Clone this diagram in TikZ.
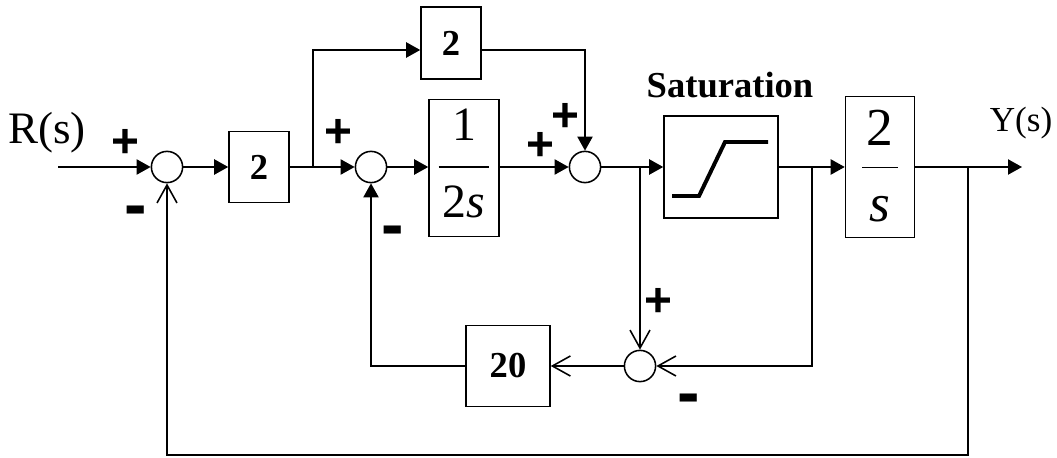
\documentclass[tikz,border=0pt]{standalone}
\usepackage{fontspec}
\setmainfont{Liberation Serif}
\newfontfamily\signfont{Liberation Sans}
\usetikzlibrary{arrows.meta,positioning,calc}
\setlength{\arrayrulewidth}{1.2pt}

\begin{document}
\begin{tikzpicture}[x=0.025cm, y=-0.025cm, line width=1.1pt,
    blk/.style={rectangle, draw, line width=1.1pt, inner sep=0pt},
    sumj/.style={circle, draw, line width=1.1pt, minimum size=0.78cm, inner sep=0pt},
    plus/.style={font=\signfont\bfseries\fontsize{34}{34}\selectfont, inner sep=0pt},
    minus/.style={font=\signfont\bfseries\fontsize{48}{48}\selectfont, inner sep=0pt},
    gain/.style={font=\bfseries\fontsize{26}{26}\selectfont},
    fwd/.style={-{Triangle[length=3.5mm,width=3.8mm]}},
    bwd/.style={-{Straight Barb[length=4.5mm,width=5mm]}}
]
    \useasboundingbox (0,0) rectangle (1057,458);

    % Signals in and out
    \node[font=\fontsize{32}{32}\selectfont, inner sep=0pt] (rlab) at (47,133) {R(s)};
    \node[font=\fontsize{25}{25}\selectfont, inner sep=0pt] (ylab) at (1021,123) {Y(s)};
    \coordinate (in) at (58,167);
    \coordinate (yout) at (1022,167);

    % Forward path
    \node[sumj] (sum1) at (167,167) {};
    \node[blk, gain, minimum width=1.5cm, minimum height=1.775cm] (g1) at (259,167) {2};
    \node[sumj] (sum2) at (371,167) {};
    \node[blk, minimum width=1.75cm, minimum height=3.425cm, font=\fontsize{34}{34}\selectfont]
        (integ) at (464,168) {\begin{tabular}{@{\hspace{3pt}}c@{\hspace{3pt}}}
            \rule{0pt}{26pt}1\\[8.3pt]\hline\rule{0pt}{35.5pt}2\textit{s}\end{tabular}};
    \node[blk, gain, minimum width=1.5cm, minimum height=1.8cm] (gtop) at (451,43) {2};
    \node[sumj] (sum3) at (585,167) {};
    \node[blk, minimum width=2.85cm, minimum height=2.55cm] (sat) at (721,167) {};
    \node[font=\bfseries\fontsize{26}{26}\selectfont] (satlab) at (730,85) {Saturation};
    \node[blk, minimum width=1.725cm, minimum height=3.425cm, font=\fontsize{38}{38}\selectfont]
        (gout) at (880,167) {\begin{tabular}{@{\hspace{3pt}}c@{\hspace{3pt}}}
            \rule{0pt}{35pt}2\\[3.5pt]\hline\rule{0pt}{37.7pt}\textit{s}\end{tabular}};

    % Inner loop
    \node[sumj] (sum4) at (640,366) {};
    \node[blk, gain, minimum width=2.1cm, minimum height=2.025cm] (gfb) at (508,366) {20};

    % saturation curve
    \draw[line width=2.8pt] (672,196) -- (699,196) -- (725,142) -- (768,142);

    % branch points
    \coordinate (b1) at (313,167);
    \coordinate (b1top) at (313,50);
    \coordinate (b2) at (640,167);
    \coordinate (b3) at (812,167);
    \coordinate (b4) at (968,167);
    \coordinate (bot) at (968,455);

    % Connectors
    \draw[fwd] (in) -- (sum1);
    \draw[fwd] (sum1) -- (g1);
    \draw[fwd] (g1) -- (sum2);
    \draw[fwd] (b1) -- (b1top) -- (gtop.west |- b1top);
    \draw[fwd] (gtop.east |- b1top) -| (sum3);
    \draw[fwd] (sum2) -- (sum2 -| integ.west);
    \draw[fwd] (integ.east |- sum3) -- (sum3);
    \draw[fwd] (sum3) -- (sat);
    \draw[fwd] (sat) -- (gout);
    \draw[fwd] (gout) -- (yout);
    \draw[bwd] (b2) -- (sum4);
    \draw[bwd] (b3) |- (sum4);
    \draw[bwd] (sum4) -- (gfb);
    \draw[fwd] (gfb) -| (sum2);
    \draw[bwd] (b4) -- (bot) -| (sum1);

    % Signs
    \node[plus] (p1) at (125,143) {+};
    \node[minus] (m1) at (136,217) {-};
    \node[plus] (p2) at (338,133) {+};
    \node[minus] (m2) at (393,237) {-};
    \node[plus] (p3) at (540,146) {+};
    \node[plus] (p4) at (565,117) {+};
    \node[plus] (p5) at (658,302) {+};
    \node[minus] (m4) at (689,405) {-};
\end{tikzpicture}
\end{document}
